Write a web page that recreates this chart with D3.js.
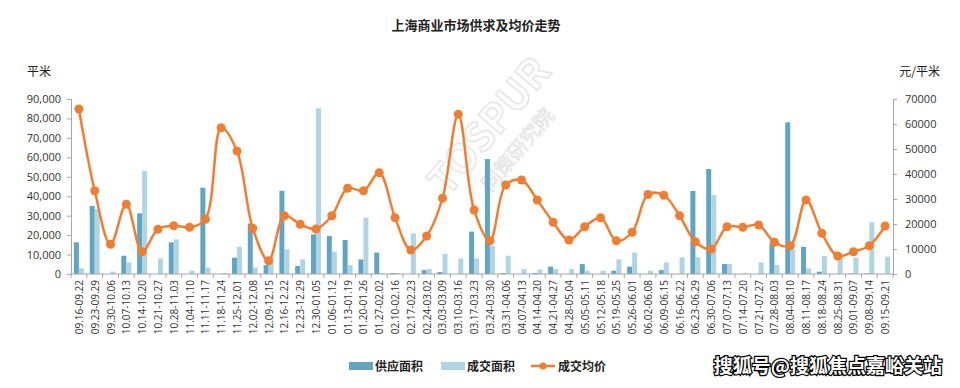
<!DOCTYPE html>
<html lang="zh">
<head>
<meta charset="utf-8">
<title>上海商业市场供求及均价走势</title>
<script src="https://d3js.org/d3.v7.min.js"></script>
<style>
  body { margin: 0; background: #fff; }
  text { font-family: "Noto Sans CJK SC", "Noto Sans", sans-serif; }
</style>
</head>
<body>
<div id="chart"></div>
<script>
// weeks (x axis)
var weeks = ["09.16-09.22","09.23-09.29","09.30-10.06","10.07-10.13","10.14-10.20","10.21-10.27",
  "10.28-11.03","11.04-11.10","11.11-11.17","11.18-11.24","11.25-12.01","12.02-12.08","12.09-12.15",
  "12.16-12.22","12.23-12.29","12.30-01.05","01.06-01.12","01.13-01.19","01.20-01.26","01.27-02.02",
  "02.10-02.16","02.17-02.23","02.24-03.02","03.03-03.09","03.10-03.16","03.17-03.23","03.24-03.30",
  "03.31-04.06","04.07-04.13","04.14-04.20","04.21-04.27","04.28-05.04","05.05-05.11","05.12-05.18",
  "05.19-05.25","05.26-06.01","06.02-06.08","06.09-06.15","06.16-06.22","06.23-06.29","06.30-07.06",
  "07.07-07.13","07.14-07.20","07.21-07.27","07.28-08.03","08.04-08.10","08.11-08.17","08.18-08.24",
  "08.25-08.31","09.01-09.07","09.08-09.14","09.15-09.21"];

// 供应面积 (平米)
var supply = [16300,35000,0,9400,31200,0,16300,0,44400,0,8400,26000,4600,
  42800,4100,20400,19500,17500,7500,11000,500,0,2000,1000,0,21800,59100,
  500,0,500,3800,0,5100,0,1700,3800,0,2000,0,42700,54000,
  5100,0,0,15800,78000,14000,1200,0,300,300,0];

// 成交面积 (平米)
var deal = [2900,33400,1200,6000,53000,8000,17800,1700,3400,500,14000,3400,8000,
  12700,7500,85200,11500,4600,29000,500,500,20900,2600,10300,8000,8000,14600,
  9400,2600,2300,2600,2600,1700,1700,7500,11000,1700,6000,8600,8600,40600,
  5100,600,6000,4600,12700,2900,9300,10600,8400,26600,8900];

// 成交均价 (元/平米)
var price = [66000,33300,11900,27900,8900,17900,19300,18700,21900,58500,49200,18300,5300,
  23300,19900,18000,23300,34300,33300,40500,22500,9600,15200,30300,63900,25600,13300,
  35600,37600,29600,20700,13600,18900,22500,13300,16700,31800,31500,23300,12900,10000,
  18900,18700,19600,12700,11300,29600,16300,7200,8900,11300,19200];

var leftTicks = [0,10000,20000,30000,40000,50000,60000,70000,80000,90000];
var rightTicks = [0,10000,20000,30000,40000,50000,60000,70000];

var cDark = "#61a5c2", cLight = "#afd5e2", cLine = "#ef7e33";

var W = 960, H = 388;
var margin = {top: 99, right: 67, bottom: 114, left: 71};
var width = W - margin.left - margin.right,
    height = H - margin.top - margin.bottom;

var svg = d3.select("#chart").append("svg")
    .attr("width", W).attr("height", H);

// faint watermark behind the chart
var wm = svg.append("g").attr("transform", "translate(500,135) rotate(-50)");
wm.append("text")
    .attr("text-anchor", "middle")
    .style("font-size", "40px")
    .style("font-weight", "bold")
    .style("fill", "none")
    .style("stroke", "#e6e6e6")
    .style("stroke-width", 1.5)
    .text("TOSPUR");
wm.append("text")
    .attr("y", 30)
    .attr("text-anchor", "middle")
    .style("font-size", "20px")
    .style("fill", "none")
    .style("stroke", "#e6e6e6")
    .style("stroke-width", 1)
    .text("同策研究院");

var g = svg.append("g")
    .attr("transform", "translate(" + margin.left + "," + margin.top + ")");

// scales
var x = d3.scaleBand().domain(weeks).range([0, width]);
var yL = d3.scaleLinear().domain([0, 90000]).range([height, 0]);
var yR = d3.scaleLinear().domain([0, 70000]).range([height, 0]);

// left axis
var axL = g.append("g")
    .call(d3.axisLeft(yL).tickValues(leftTicks).tickSize(4).tickPadding(6)
      .tickFormat(d3.format(",")));
axL.selectAll("text").style("font-size", "11px").style("fill", "#333")
    .style("font-family", "'Open Sans', sans-serif");

// right axis
var axR = g.append("g")
    .attr("transform", "translate(" + width + ",0)")
    .call(d3.axisRight(yR).tickValues(rightTicks).tickSize(4).tickPadding(8)
      .tickFormat(d3.format("d")));
axR.selectAll("text").style("font-size", "11px").style("fill", "#333")
    .style("font-family", "'Open Sans', sans-serif");

[axL, axR].forEach(function(a) {
  a.selectAll("path, line").attr("stroke", "#a6a6a6");
});

// bars
var bw = 5;
var grp = g.selectAll(".wk").data(weeks).enter().append("g")
    .attr("transform", function(d) { return "translate(" + (x(d) + x.bandwidth() / 2 - bw) + ",0)"; });

grp.append("rect")
    .attr("x", 0)
    .attr("y", function(d, i) { return yL(supply[i]); })
    .attr("width", bw)
    .attr("height", function(d, i) { return height - yL(supply[i]); })
    .attr("fill", cDark);

grp.append("rect")
    .attr("x", bw)
    .attr("y", function(d, i) { return yL(deal[i]); })
    .attr("width", bw)
    .attr("height", function(d, i) { return height - yL(deal[i]); })
    .attr("fill", cLight);

// bottom axis with ticks between categories
var axB = g.append("g").attr("transform", "translate(0," + height + ")");
axB.append("line").attr("x1", 0).attr("x2", width).attr("stroke", "#a6a6a6");
axB.selectAll(".tk").data(weeks.concat(["end"])).enter().append("line")
    .attr("x1", function(d, i) { return i * x.step(); })
    .attr("x2", function(d, i) { return i * x.step(); })
    .attr("y1", 0).attr("y2", 4)
    .attr("stroke", "#a6a6a6");
axB.selectAll(".lbl").data(weeks).enter().append("text")
    .attr("transform", function(d) { return "translate(" + (x(d) + x.bandwidth() / 2 + 4) + ",6) rotate(-90)"; })
    .attr("text-anchor", "end")
    .style("font-size", "10px")
    .style("fill", "#333")
    .style("font-family", "'Open Sans', sans-serif")
    .text(function(d) { return d; });

// price line
var line = d3.line()
    .x(function(d, i) { return x(weeks[i]) + x.bandwidth() / 2; })
    .y(function(d) { return yR(d); })
    .curve(d3.curveCatmullRom.alpha(0.5));

g.append("path")
    .datum(price)
    .attr("d", line)
    .attr("fill", "none")
    .attr("stroke", cLine)
    .attr("stroke-width", 2.5);

g.selectAll(".dot").data(price).enter().append("circle")
    .attr("cx", function(d, i) { return x(weeks[i]) + x.bandwidth() / 2; })
    .attr("cy", function(d) { return yR(d); })
    .attr("r", 4.5)
    .attr("fill", cLine);

// title and unit labels
svg.append("text")
    .attr("x", 476).attr("y", 30)
    .attr("text-anchor", "middle")
    .style("font-size", "13px").style("font-weight", "bold").style("fill", "#222")
    .text("上海商业市场供求及均价走势");

svg.append("text")
    .attr("x", 27).attr("y", 76)
    .style("font-size", "12px").style("fill", "#222")
    .text("平米");

svg.append("text")
    .attr("x", 940).attr("y", 76)
    .attr("text-anchor", "end")
    .style("font-size", "12px").style("fill", "#222")
    .text("元/平米");

// legend
var lg = svg.append("g").attr("transform", "translate(349,366)");
lg.append("rect").attr("x", 0).attr("y", -4).attr("width", 24).attr("height", 8).attr("fill", cDark);
lg.append("text").attr("x", 26).attr("y", 4.5).style("font-size", "12px").style("font-weight", "bold")
    .style("fill", "#222").text("供应面积");
lg.append("rect").attr("x", 92).attr("y", -4).attr("width", 24).attr("height", 8).attr("fill", cLight);
lg.append("text").attr("x", 118).attr("y", 4.5).style("font-size", "12px").style("font-weight", "bold")
    .style("fill", "#222").text("成交面积");
lg.append("line").attr("x1", 182).attr("x2", 206).attr("y1", 0).attr("y2", 0)
    .attr("stroke", cLine).attr("stroke-width", 2.5);
lg.append("circle").attr("cx", 194).attr("cy", 0).attr("r", 3.5).attr("fill", cLine);
lg.append("text").attr("x", 209).attr("y", 4.5).style("font-size", "12px").style("font-weight", "bold")
    .style("fill", "#222").text("成交均价");

// source tag
svg.append("text")
    .attr("x", 942).attr("y", 373)
    .attr("text-anchor", "end")
    .style("font-size", "19px").style("font-weight", "bold")
    .style("fill", "#fff").style("stroke", "#000").style("stroke-width", 2.5)
    .style("paint-order", "stroke")
    .text("搜狐号@搜狐焦点嘉峪关站");
</script>
</body>
</html>
